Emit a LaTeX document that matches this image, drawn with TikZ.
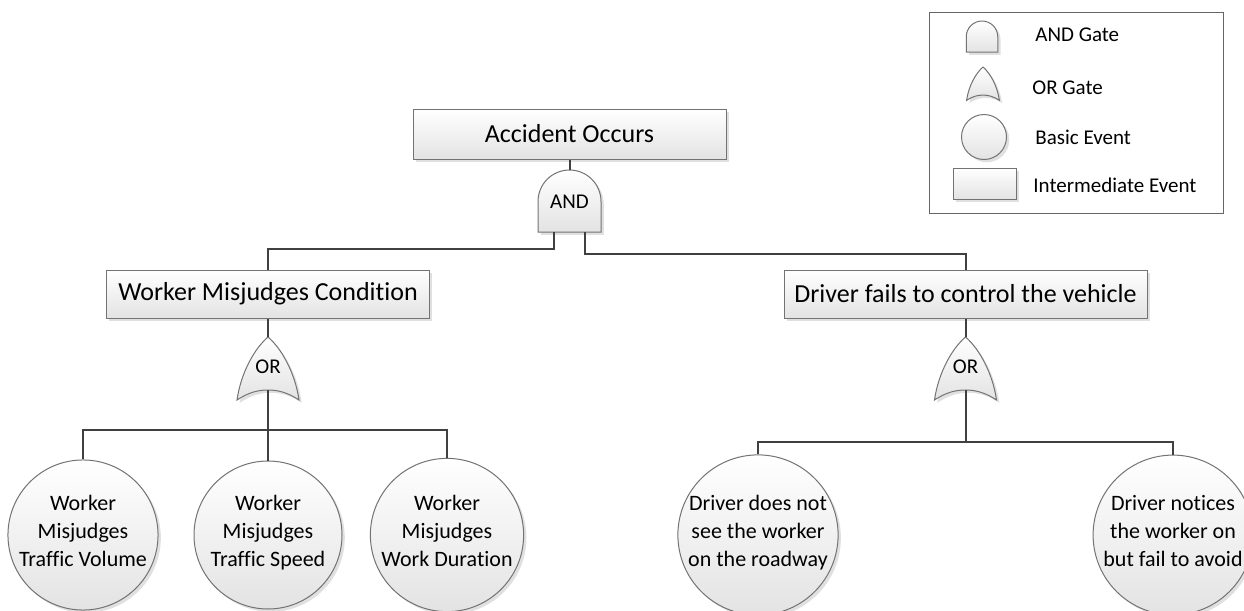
\documentclass[tikz,border=0pt]{standalone}
\usepackage{fontspec}
\setmainfont{Carlito}[Ligatures=NoCommon]
\usetikzlibrary{shadows}

\tikzset{
  x=0.5pt, y=-0.5pt,
  shapeline/.style={draw=black!55, line width=0.5pt},
  shade3d/.style={top color=white, bottom color=black!11},
  shadowed/.style={drop shadow={shadow xshift=1.4pt, shadow yshift=-1.4pt, fill=black!30, opacity=0.4}},
  gateshape/.style={shapeline, shade3d, shadowed},
  ievent/.style={rectangle, shapeline, shade3d, shadowed, inner sep=0pt,
    font=\fontsize{13}{15}\selectfont},
  bevent/.style={circle, shapeline, shade3d, shadowed, inner sep=0pt,
    minimum size=74pt, align=center, font=\fontsize{11}{14}\selectfont,
    execute at begin node=\strut, execute at end node=\strut},
  gatelabel/.style={inner sep=0pt, font=\fontsize{10.5}{12}\selectfont},
  legendtext/.style={anchor=west, inner sep=0pt, font=\fontsize{10.5}{12}\selectfont},
  link/.style={draw=black!75, line width=1pt},
  % AND gate: origin at the top of the arch
  andgate/.pic={
    \path[gateshape] (-31.5,62) -- (-31.5,31.5)
      .. controls (-31.5,14.1) and (-17.4,0) .. (0,0)
      .. controls (17.4,0) and (31.5,14.1) .. (31.5,31.5)
      -- (31.5,62) -- cycle;
    \coordinate (-top) at (0,0);
    \coordinate (-left) at (-15.5,62);
    \coordinate (-right) at (15.5,62);
  },
  % OR gate: origin at the apex
  orgate/.pic={
    \path[gateshape] (-31,63)
      .. controls (-27,35) and (-13,11) .. (0,0)
      .. controls (13,11) and (27,35) .. (31,63)
      .. controls (19,55) and (9,53) .. (0,53)
      .. controls (-9,53) and (-19,55) .. (-31,63) -- cycle;
    \coordinate (-top) at (0,0);
    \coordinate (-bottom) at (0,53);
  },
}

\begin{document}
\begin{tikzpicture}
\useasboundingbox (0,0) rectangle (1244,611);

% top event
\node[ievent, minimum width=156.5pt, minimum height=25pt] (top) at (569.5,134) {Accident Occurs};
\pic (g0) at (569.5,170) {andgate};
\node[gatelabel] (g0lbl) at (569.5,202) {AND};

% intermediate events
\node[ievent, minimum width=161.5pt, minimum height=24pt] (wmc) at (268,294) {Worker Misjudges Condition};
\node[ievent, minimum width=181.5pt, minimum height=24pt] (dfc) at (965.5,294) {Driver fails to control the vehicle};

\pic (or1) at (268,337) {orgate};
\node[gatelabel] (or1lbl) at (268,367) {OR};
\pic (or2) at (965.5,337) {orgate};
\node[gatelabel] (or2lbl) at (965.5,367) {OR};

% basic events
\node[bevent] (b1) at (83,535) {Worker\\Misjudges\\Traffic Volume};
\node[bevent] (b2) at (268,535) {Worker\\Misjudges\\Traffic Speed};
\node[bevent] (b3) at (447,535) {Worker\\Misjudges\\Work Duration};
\node[bevent] (b4) at (758,535) {Driver does not\\see the worker\\on the roadway};
\node[bevent] (b5) at (1173,535) {Driver notices\\the worker on\\but fail to avoid};

% connectors
\draw[link] (top.south) -- (g0-top);
\draw[link] (g0-left) -- ++(0,17) -| (wmc.north);
\draw[link] (g0-right) -- ++(0,22) -| (dfc.north);

\draw[link] (wmc.south) -- (or1-top);
\draw[link] (or1-bottom) -- ++(0,40) coordinate (j1);
\draw[link] (j1) -| (b1.north);
\draw[link] (j1) -- (b2.north);
\draw[link] (j1) -| (b3.north);

\draw[link] (dfc.south) -- (or2-top);
\draw[link] (or2-bottom) -- ++(0,52) coordinate (j2);
\draw[link] (j2) -| (b4.north);
\draw[link] (j2) -| (b5.north);

% legend
\node[draw=black!60, line width=0.5pt, minimum width=147pt, minimum height=100.5pt, inner sep=0pt] (legend) at (1076,112.5) {};
\pic[scale=0.5] (lg1) at (982,21) {andgate};
\pic[scale=0.53] (lg2) at (983,67) {orgate};
\node[bevent, minimum size=22.5pt] (lg3) at (984,137) {};
\node[ievent, minimum width=31.5pt, minimum height=15.5pt] (lg4) at (984.5,183.5) {};
\node[legendtext] (lt1) at (1035,35) {AND Gate};
\node[legendtext] (lt2) at (1032,88) {OR Gate};
\node[legendtext] (lt3) at (1035,137) {Basic Event};
\node[legendtext] (lt4) at (1033,185) {Intermediate Event};
\end{tikzpicture}
\end{document}
